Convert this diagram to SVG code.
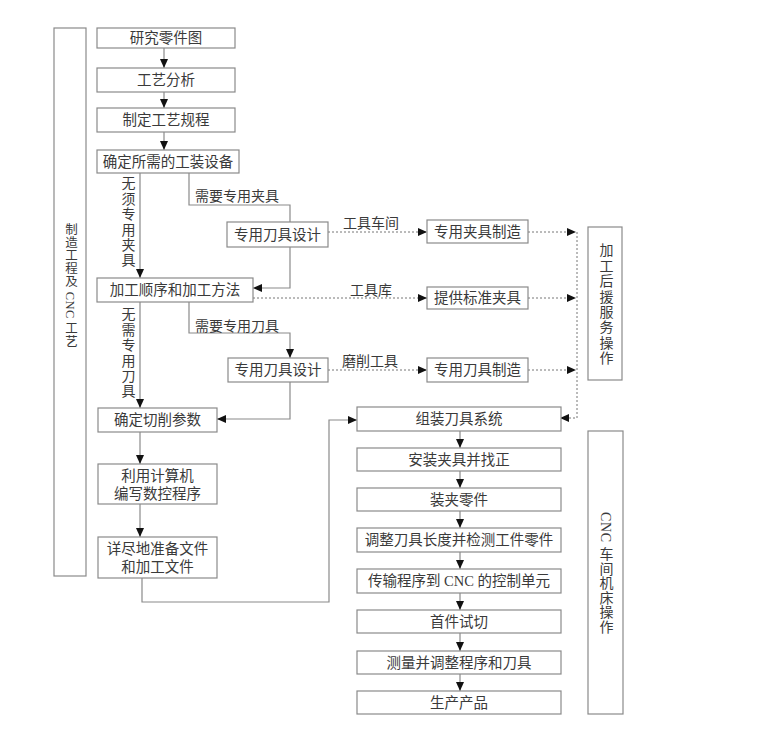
<svg xmlns="http://www.w3.org/2000/svg" width="772" height="739" viewBox="0 0 772 739">
<style>
.b{fill:#fff;stroke:#8a8a8a;stroke-width:1.2}
.t{font-family:"Liberation Serif","Noto Sans CJK SC",serif;font-size:14.5px;fill:#3a3a3a;text-anchor:middle}
.l{font-family:"Liberation Serif","Noto Sans CJK SC",serif;font-size:14px;fill:#3a3a3a}
.v{font-family:"Liberation Serif","Noto Sans CJK SC",serif;font-size:14px;fill:#3a3a3a;writing-mode:vertical-rl;letter-spacing:1.4px}
.c{fill:none;stroke:#8a8a8a;stroke-width:1.2}
.d{fill:none;stroke:#777;stroke-width:1;stroke-dasharray:2,2}
</style>
<defs>
<marker id="a" markerUnits="userSpaceOnUse" markerWidth="10" markerHeight="8" refX="9" refY="4" orient="auto"><path d="M0,0 L9,4 L0,8 Z" fill="#111"/></marker>
</defs>
<rect width="772" height="739" fill="#fff"/>
<g id="connectors">
<path class="c" d="M164,48 V68" marker-end="url(#a)"/>
<path class="c" d="M164,92 V108" marker-end="url(#a)"/>
<path class="c" d="M164,132 V150" marker-end="url(#a)"/>
<path class="c" d="M140,173 V278" marker-end="url(#a)"/>
<path class="c" d="M189,173 V205 H290 V222"/>
<path class="c" d="M290,247 V288 H253" marker-end="url(#a)"/>
<path class="d" d="M328,232 H427" marker-end="url(#a)"/>
<path class="d" d="M528,232 H576" marker-end="url(#a)"/>
<path class="d" d="M253,298 H427" marker-end="url(#a)"/>
<path class="d" d="M528,298 H576" marker-end="url(#a)"/>
<path class="c" d="M140,302 V408" marker-end="url(#a)"/>
<path class="c" d="M189,302 V333 H290 V358" marker-end="url(#a)"/>
<path class="c" d="M290,382 V419 H217" marker-end="url(#a)"/>
<path class="d" d="M328,370 H427" marker-end="url(#a)"/>
<path class="d" d="M528,370 H576" marker-end="url(#a)"/>
<path class="d" d="M577,232 V418 H560" marker-end="url(#a)"/>
<path class="c" d="M140,432 V464" marker-end="url(#a)"/>
<path class="c" d="M140,504 V537" marker-end="url(#a)"/>
<path class="c" d="M142,578 V602 H329 V420 H357" marker-end="url(#a)"/>
<path class="c" d="M460,431 V448" marker-end="url(#a)"/>
<path class="c" d="M460,471 V488" marker-end="url(#a)"/>
<path class="c" d="M460,511 V528" marker-end="url(#a)"/>
<path class="c" d="M460,552 V569" marker-end="url(#a)"/>
<path class="c" d="M460,593 V610" marker-end="url(#a)"/>
<path class="c" d="M460,633 V651" marker-end="url(#a)"/>
<path class="c" d="M460,674 V691" marker-end="url(#a)"/>
</g>
<g id="labels">
<text class="l" x="195" y="201">需要专用夹具</text>
<text class="l" x="195" y="331">需要专用刀具</text>
<text class="l" x="343" y="228">工具车间</text>
<text class="l" x="350" y="295">工具库</text>
<text class="l" x="342" y="366">磨削工具</text>
<text class="v" x="127" y="176">无须专用夹具</text>
<text class="v" x="127" y="307">无需专用刀具</text>
</g>
<g id="side-left"><rect class="b" x="54" y="28" width="32" height="548"/><text class="v" style="font-size:12.5px;letter-spacing:0.5px" x="70" y="223">制造工程及 CNC 工艺</text></g>
<g id="side-top"><rect class="b" x="588" y="227" width="34" height="153"/><text class="v" x="605" y="243">加工后援服务操作</text></g>
<g id="side-bottom"><rect class="b" x="588" y="431" width="35" height="283"/><text class="v" style="letter-spacing:0.6px" x="605" y="512">CNC 车间机床操作</text></g>
<g id="n1"><rect class="b" x="97" y="28" width="138" height="20"/><text class="t" x="166" y="43">研究零件图</text></g>
<g id="n2"><rect class="b" x="97" y="68" width="138" height="24"/><text class="t" x="166" y="85">工艺分析</text></g>
<g id="n3"><rect class="b" x="97" y="108" width="138" height="24"/><text class="t" x="166" y="125">制定工艺规程</text></g>
<g id="n4"><rect class="b" x="97" y="150" width="142" height="23"/><text class="t" x="168" y="167">确定所需的工装设备</text></g>
<g id="n5"><rect class="b" x="97" y="278" width="156" height="24"/><text class="t" x="175" y="295">加工顺序和加工方法</text></g>
<g id="n6"><rect class="b" x="227" y="222" width="101" height="25"/><text class="t" x="277.5" y="240">专用刀具设计</text></g>
<g id="n7"><rect class="b" x="427" y="220" width="101" height="23"/><text class="t" x="477.5" y="237">专用夹具制造</text></g>
<g id="n8"><rect class="b" x="427" y="287" width="101" height="22"/><text class="t" x="477.5" y="303">提供标准夹具</text></g>
<g id="n9"><rect class="b" x="98" y="408" width="119" height="24"/><text class="t" x="157.5" y="425">确定切削参数</text></g>
<g id="n10"><rect class="b" x="228" y="358" width="100" height="24"/><text class="t" x="278" y="375">专用刀具设计</text></g>
<g id="n11"><rect class="b" x="427" y="358" width="101" height="24"/><text class="t" x="477.5" y="375">专用刀具制造</text></g>
<g id="n12"><rect class="b" x="98" y="464" width="119" height="40"/><text class="t" x="157.5" y="481">利用计算机</text><text class="t" x="157.5" y="499">编写数控程序</text></g>
<g id="n13"><rect class="b" x="98" y="537" width="119" height="41"/><text class="t" x="157.5" y="554">详尽地准备文件</text><text class="t" x="157.5" y="572">和加工文件</text></g>
<g id="n14"><rect class="b" x="357" y="407" width="204" height="24"/><text class="t" x="459" y="424">组装刀具系统</text></g>
<g id="n15"><rect class="b" x="357" y="448" width="204" height="23"/><text class="t" x="459" y="465">安装夹具并找正</text></g>
<g id="n16"><rect class="b" x="357" y="488" width="204" height="23"/><text class="t" x="459" y="505">装夹零件</text></g>
<g id="n17"><rect class="b" x="357" y="528" width="204" height="24"/><text class="t" x="459" y="545">调整刀具长度并检测工件零件</text></g>
<g id="n18"><rect class="b" x="357" y="569" width="204" height="24"/><text class="t" x="459" y="586">传输程序到 CNC 的控制单元</text></g>
<g id="n19"><rect class="b" x="357" y="610" width="204" height="23"/><text class="t" x="459" y="627">首件试切</text></g>
<g id="n20"><rect class="b" x="357" y="651" width="204" height="23"/><text class="t" x="459" y="668">测量并调整程序和刀具</text></g>
<g id="n21"><rect class="b" x="357" y="691" width="204" height="23"/><text class="t" x="459" y="708">生产产品</text></g>
</svg>
